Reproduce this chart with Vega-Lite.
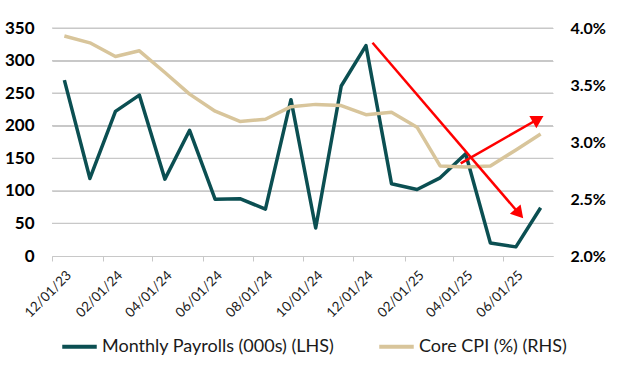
{
  "$schema": "https://vega.github.io/schema/vega-lite/v6.json",
  "width": 501,
  "height": 228,
  "autosize": {"type": "none"},
  "padding": {"left": 52, "top": 28, "right": 71, "bottom": 116},
  "background": "white",
  "config": {
    "view": {"stroke": null},
    "font": "Lato"
  },
  "datasets": {
    "gridlines": [
      {"level": 50}, {"level": 100}, {"level": 150}, {"level": 200},
      {"level": 250}, {"level": 300}, {"level": 350}
    ],
    "cpi": [
      {"date": "2023-12-01", "cpi": 3.93},
      {"date": "2024-01-01", "cpi": 3.87},
      {"date": "2024-02-01", "cpi": 3.75},
      {"date": "2024-03-01", "cpi": 3.80},
      {"date": "2024-04-01", "cpi": 3.61},
      {"date": "2024-05-01", "cpi": 3.42},
      {"date": "2024-06-01", "cpi": 3.27},
      {"date": "2024-07-01", "cpi": 3.18},
      {"date": "2024-08-01", "cpi": 3.20},
      {"date": "2024-09-01", "cpi": 3.31},
      {"date": "2024-10-01", "cpi": 3.33},
      {"date": "2024-11-01", "cpi": 3.32},
      {"date": "2024-12-01", "cpi": 3.24},
      {"date": "2025-01-01", "cpi": 3.26},
      {"date": "2025-02-01", "cpi": 3.13},
      {"date": "2025-03-01", "cpi": 2.79},
      {"date": "2025-04-01", "cpi": 2.78},
      {"date": "2025-05-01", "cpi": 2.79},
      {"date": "2025-06-01", "cpi": 2.93},
      {"date": "2025-07-01", "cpi": 3.07}
    ],
    "payrolls": [
      {"date": "2023-12-01", "payrolls": 270},
      {"date": "2024-01-01", "payrolls": 119},
      {"date": "2024-02-01", "payrolls": 222},
      {"date": "2024-03-01", "payrolls": 247},
      {"date": "2024-04-01", "payrolls": 118},
      {"date": "2024-05-01", "payrolls": 193},
      {"date": "2024-06-01", "payrolls": 87},
      {"date": "2024-07-01", "payrolls": 88},
      {"date": "2024-08-01", "payrolls": 72},
      {"date": "2024-09-01", "payrolls": 240},
      {"date": "2024-10-01", "payrolls": 43},
      {"date": "2024-11-01", "payrolls": 261},
      {"date": "2024-12-01", "payrolls": 323},
      {"date": "2025-01-01", "payrolls": 111},
      {"date": "2025-02-01", "payrolls": 102},
      {"date": "2025-03-01", "payrolls": 120},
      {"date": "2025-04-01", "payrolls": 157},
      {"date": "2025-05-01", "payrolls": 20},
      {"date": "2025-06-01", "payrolls": 14},
      {"date": "2025-07-01", "payrolls": 74}
    ],
    "arrows": [
      {"arrow": "down", "date": "2024-12-09", "pos": 327.4},
      {"arrow": "down", "date": "2025-06-05", "pos": 64.9},
      {"arrow": "up", "date": "2025-03-26", "pos": 142.3},
      {"arrow": "up", "date": "2025-06-28", "pos": 210.3}
    ],
    "heads": [
      {"arrow": "down", "date": "2025-06-05", "pos": 64.9},
      {"arrow": "up", "date": "2025-06-28", "pos": 210.3}
    ]
  },
  "layer": [
    {
      "data": {"name": "gridlines"},
      "mark": {"type": "rule", "color": "#c8c8c8", "strokeWidth": 1.2},
      "encoding": {
        "x": {"datum": {"year": 2023, "month": 11, "date": 16, "utc": true}, "type": "temporal"},
        "x2": {"datum": {"year": 2025, "month": 7, "date": 16, "utc": true}},
        "y": {
          "field": "level",
          "type": "quantitative",
          "scale": {"domain": [0, 350], "nice": false},
          "axis": null
        }
      }
    },
    {
      "data": {"name": "payrolls"},
      "mark": {"type": "line", "strokeWidth": 3.5, "strokeJoin": "round"},
      "encoding": {
        "x": {
          "field": "date",
          "type": "temporal",
          "scale": {"type": "utc", "domain": [{"year": 2023, "month": 11, "date": 16, "utc": true}, {"year": 2025, "month": 7, "date": 16, "utc": true}]},
          "axis": {
            "title": null,
            "values": [
              {"year": 2023, "month": 12, "date": 1, "utc": true},
              {"year": 2024, "month": 2, "date": 1, "utc": true},
              {"year": 2024, "month": 4, "date": 1, "utc": true},
              {"year": 2024, "month": 6, "date": 1, "utc": true},
              {"year": 2024, "month": 8, "date": 1, "utc": true},
              {"year": 2024, "month": 10, "date": 1, "utc": true},
              {"year": 2024, "month": 12, "date": 1, "utc": true},
              {"year": 2025, "month": 2, "date": 1, "utc": true},
              {"year": 2025, "month": 4, "date": 1, "utc": true},
              {"year": 2025, "month": 6, "date": 1, "utc": true}
            ],
            "format": "%m/%d/%y",
            "labelAngle": -45,
            "labelFontSize": 13.5,
            "labelColor": "#1a1a1a",
            "labelPadding": 7,
            "tickOffset": -12.5,
            "labelOffset": 12,
            "tickSize": 5,
            "tickColor": "#c8c8c8",
            "domainColor": "#c8c8c8",
            "grid": false,
            "labelOverlap": false,
            "labelFlush": false
          }
        },
        "y": {
          "field": "payrolls",
          "type": "quantitative",
          "scale": {"domain": [0, 350], "nice": false},
          "axis": {
            "orient": "left",
            "title": null,
            "values": [0, 50, 100, 150, 200, 250, 300, 350],
            "labelFontSize": 17,
            "labelFontWeight": "bold",
            "labelColor": "#000000",
            "labelPadding": 18,
            "labelOverlap": false,
            "ticks": false,
            "domain": false,
            "grid": true,
            "gridColor": "#c8c8c8",
            "gridWidth": 1.2
          }
        },
        "color": {
          "datum": "Monthly Payrolls (000s) (LHS)",
          "type": "nominal",
          "scale": {"domain": ["Monthly Payrolls (000s) (LHS)", "Core CPI (%) (RHS)"], "range": ["#0b4f52", "#d8c59b"]},
          "legend": {
            "title": null,
            "orient": "none",
            "direction": "horizontal",
            "legendX": 8,
            "legendY": 299,
            "symbolType": "stroke",
            "symbolSize": 1190,
            "symbolStrokeWidth": 4,
            "labelFontSize": 18,
            "labelColor": "#1a1a1a",
            "labelOffset": 3,
            "columnPadding": 36,
            "padding": 0,
            "labelLimit": 400
          }
        }
      }
    },
    {
      "data": {"name": "cpi"},
      "mark": {"type": "line", "strokeWidth": 3.5, "strokeJoin": "round"},
      "encoding": {
        "x": {"field": "date", "type": "temporal"},
        "y": {
          "field": "cpi",
          "type": "quantitative",
          "scale": {"domain": [2, 4], "nice": false, "zero": false},
          "axis": {
            "orient": "right",
            "title": null,
            "values": [2, 2.5, 3, 3.5, 4],
            "labelExpr": "format(datum.value, '.1f') + '%'",
            "labelFontSize": 16,
            "labelFontWeight": "bold",
            "labelColor": "#000000",
            "labelPadding": 17,
            "ticks": false,
            "domain": false,
            "grid": false
          }
        },
        "color": {"datum": "Core CPI (%) (RHS)", "type": "nominal"}
      }
    },
    {
      "encoding": {
        "x": {"field": "date", "type": "temporal"},
        "y": {
          "field": "pos",
          "type": "quantitative",
          "scale": {"domain": [0, 350], "nice": false},
          "axis": null
        }
      },
      "layer": [
        {
          "data": {"name": "arrows"},
          "mark": {"type": "line", "color": "#ff0000", "strokeWidth": 2.5},
          "encoding": {
            "detail": {"field": "arrow", "type": "nominal"}
          }
        },
        {
          "data": {"name": "heads"},
          "mark": {"type": "point", "shape": "triangle-up", "filled": true, "color": "#ff0000", "size": 200, "opacity": 1},
          "encoding": {
            "angle": {"field": "arrow", "type": "nominal", "scale": {"domain": ["down", "up"], "range": [139.4, 60.2]}, "legend": null}
          }
        }
      ]
    }
  ],
  "resolve": {"scale": {"y": "independent"}}
}
